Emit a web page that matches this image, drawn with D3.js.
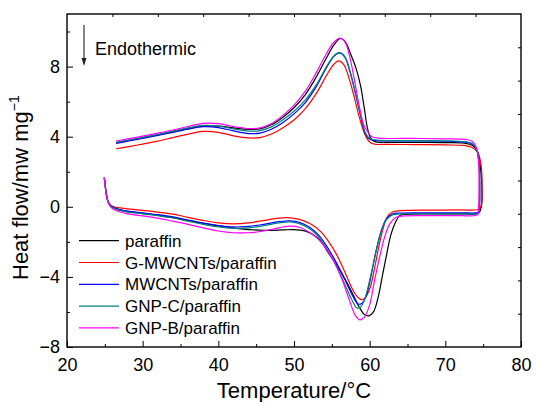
<!DOCTYPE html>
<html>
<head>
<meta charset="utf-8">
<script src="https://cdn.jsdelivr.net/npm/d3@7"></script>
<style>
  body { margin: 0; background: #fff; }
  text { font-family: Arial, "Liberation Sans", sans-serif; fill: #000; }
</style>
</head>
<body>
<div class="box"></div>
<script>
// Temperature (°C) / heat flow (mW mg-1), path goes along upper branch to the right, then back along lower branch
const paraffin = [[26.5,3.65],[28,3.78],[30,3.94],[32,4.1],[34,4.28],[36,4.46],[38,4.62],[40,4.6],[42,4.5],[44,4.42],[45.5,4.45],[47,4.68],[48.5,5.1],[50,5.65],[51.5,6.4],[53,7.45],[54.3,8.5],[55.3,9.25],[56.1,9.6],[56.8,9.4],[57.5,8.7],[58.2,7.9],[58.8,6.9],[59.3,5.6],[59.7,4.5],[60.1,3.95],[60.7,3.72],[62,3.68],[66,3.68],[70,3.66],[72.5,3.63],[73.6,3.5],[74.3,3.1],[74.65,2.2],[74.85,1.0],[74.75,0.0],[74.4,-0.35],
  [72,-0.4],[68,-0.41],[65,-0.43],[64,-0.5],[63.4,-0.9],[62.8,-1.6],[62.3,-2.6],[61.7,-3.9],[61.1,-5.2],[60.5,-6.0],[59.9,-6.22],[59.3,-6.15],[58.6,-5.7],[57.8,-5.0],[56.7,-4.1],[55.6,-3.3],[54.5,-2.6],[53.5,-1.95],[52.4,-1.55],[51.3,-1.36],[50,-1.3],[48.5,-1.32],[46,-1.34],[43,-1.26],[41,-1.15],[39,-1.02],[37,-0.86],[35,-0.7],[33,-0.55],[31,-0.42],[29,-0.32],[27.5,-0.22],[26.5,-0.1],[25.9,0.02],[25.5,0.22],[25.25,0.62],[25.05,1.2],[24.93,1.66]];

const gMwcnts = [[26.5,3.31],[28,3.42],[30,3.58],[32,3.75],[34,3.95],[36,4.15],[38,4.3],[40,4.25],[42,4.05],[44,3.93],[45.5,3.95],[47,4.15],[48.5,4.5],[50,4.95],[51.5,5.6],[53,6.5],[54.3,7.5],[55.3,8.15],[55.9,8.32],[56.6,8.1],[57.3,7.3],[58,6.2],[58.7,5.0],[59.4,4.1],[60,3.7],[60.7,3.57],[62,3.56],[66,3.55],[70,3.53],[72.5,3.5],[73.5,3.4],[74.3,3.1],[74.75,2.3],[74.85,1.2],[74.8,0.2],[74.55,-0.1],[74.2,-0.17],
  [72,-0.18],[68,-0.19],[64,-0.22],[63,-0.3],[62.3,-0.6],[61.8,-1.2],[61.2,-2.3],[60.6,-3.6],[60,-4.7],[59.4,-5.2],[58.9,-5.3],[58.3,-5.1],[57.5,-4.5],[56.6,-3.6],[55.6,-2.7],[54.6,-2.0],[53.6,-1.45],[52.5,-1.05],[51.3,-0.8],[50,-0.66],[49,-0.62],[48,-0.65],[46,-0.78],[44,-0.92],[42,-0.98],[40,-0.92],[38,-0.78],[36,-0.6],[34,-0.42],[32,-0.3],[30,-0.2],[28,-0.12],[27,-0.06],[26.2,0.0],[25.7,0.12],[25.4,0.35],[25.2,0.7],[25.05,1.2],[24.93,1.66]];

const mwcnts = [[26.5,3.62],[28,3.74],[30,3.9],[32,4.07],[34,4.25],[36,4.43],[38,4.57],[40,4.52],[42,4.33],[44,4.18],[45.5,4.2],[47,4.42],[48.5,4.8],[50,5.3],[51.5,5.95],[53,6.9],[54.3,7.95],[55.3,8.6],[56,8.78],[56.7,8.55],[57.4,7.7],[58.1,6.5],[58.8,5.2],[59.4,4.2],[60,3.85],[61,3.78],[66,3.76],[70,3.74],[72.5,3.7],[73.5,3.6],[74.1,3.3],[74.45,2.5],[74.55,1.2],[74.5,0.0],[74.35,-0.3],
  [72,-0.34],[68,-0.35],[64,-0.36],[63,-0.42],[62.2,-0.7],[61.5,-1.4],[60.8,-2.6],[60.2,-3.9],[59.6,-5.0],[59,-5.5],[58.5,-5.55],[57.9,-5.2],[57.1,-4.5],[56.1,-3.6],[55.1,-2.8],[54.1,-2.1],[53.1,-1.55],[52,-1.15],[50.8,-0.9],[49.5,-0.8],[48,-0.85],[46,-1.0],[44,-1.12],[42,-1.15],[40,-1.07],[38,-0.93],[36,-0.76],[34,-0.58],[32,-0.45],[30,-0.35],[28,-0.25],[27,-0.18],[26.2,-0.05],[25.7,0.1],[25.4,0.33],[25.2,0.7],[25.05,1.2],[24.93,1.66]];

const gnpC = [[26.5,3.68],[28,3.8],[30,3.96],[32,4.13],[34,4.32],[36,4.5],[38,4.65],[40,4.6],[42,4.45],[44,4.32],[45.5,4.35],[47,4.56],[48.5,4.95],[50,5.45],[51.5,6.1],[53,7.0],[54.3,8.0],[55.3,8.62],[56,8.8],[56.7,8.58],[57.4,7.75],[58.1,6.55],[58.8,5.25],[59.4,4.25],[60,3.9],[61,3.8],[66,3.78],[70,3.76],[72.5,3.72],[73.5,3.62],[74.1,3.32],[74.45,2.5],[74.55,1.2],[74.5,0.0],[74.35,-0.35],
  [72,-0.4],[68,-0.4],[64,-0.41],[63,-0.47],[62.2,-0.75],[61.5,-1.45],[60.8,-2.65],[60.1,-4.0],[59.4,-5.2],[58.8,-5.72],[58.3,-5.77],[57.7,-5.35],[56.9,-4.6],[55.9,-3.65],[54.9,-2.8],[53.9,-2.1],[52.9,-1.55],[51.8,-1.18],[50.6,-0.95],[49.5,-0.86],[48,-0.92],[46,-1.08],[44,-1.2],[42,-1.23],[40,-1.15],[38,-1.0],[36,-0.82],[34,-0.64],[32,-0.5],[30,-0.4],[28,-0.3],[27,-0.22],[26.2,-0.08],[25.7,0.08],[25.4,0.32],[25.2,0.7],[25.05,1.2],[24.93,1.66]];

const gnpB = [[26.5,3.75],[28,3.87],[30,4.03],[32,4.2],[34,4.38],[36,4.58],[38,4.76],[40,4.74],[42,4.58],[44,4.46],[45.5,4.5],[47,4.75],[48.5,5.2],[50,5.8],[51.5,6.6],[53,7.7],[54.3,8.75],[55.3,9.4],[56.1,9.62],[56.8,9.35],[57.4,8.5],[58,7.2],[58.6,5.8],[59.2,4.7],[59.7,4.3],[60.3,4.0],[61.2,3.92],[66,3.9],[70,3.88],[72.5,3.85],[73.5,3.75],[74.1,3.4],[74.4,2.5],[74.45,1.2],[74.4,0.0],[74.3,-0.45],
  [72,-0.5],[68,-0.5],[64.5,-0.52],[63.5,-0.6],[62.7,-0.95],[62,-1.7],[61.3,-2.9],[60.6,-4.3],[60,-5.6],[59.3,-6.3],[58.7,-6.45],[58.1,-6.2],[57.3,-5.3],[56.3,-4.1],[55.2,-3.05],[54.1,-2.3],[53.1,-1.8],[52,-1.45],[50.8,-1.18],[49.5,-1.1],[48,-1.2],[46,-1.38],[44,-1.48],[42,-1.48],[40,-1.38],[38,-1.2],[36,-1.0],[34,-0.82],[32,-0.65],[30,-0.52],[28,-0.4],[27,-0.3],[26.2,-0.15],[25.7,0.03],[25.4,0.3],[25.2,0.7],[25.05,1.2],[24.93,1.66]];

const seriesNames = ['paraffin', 'G-MWCNTs/paraffin', 'MWCNTs/paraffin', 'GNP-C/paraffin', 'GNP-B/paraffin'];
const seriesColors = ['#000000', '#ff0000', '#0000ff', '#008080', '#ff00ff'];
const seriesData = [paraffin, gMwcnts, mwcnts, gnpC, gnpB];

const xTicks = [20, 30, 40, 50, 60, 70, 80];
const xMinor = [25, 35, 45, 55, 65, 75];
const yTicks = [-8, -4, 0, 4, 8];
const yMinor = [-6, -2, 2, 6, 10];

const W = 536, H = 402;
const svg = d3.select('.box')
              .append('svg')
              .attr('width', W)
              .attr('height', H);

const m = {left: 67, right: 521, top: 14, bottom: 347};

const x = d3.scaleLinear().domain([20, 80]).range([m.left, m.right]);
const y = d3.scaleLinear().domain([-8, 11]).range([m.bottom, m.top]);

// axes, ticks pointing inward
const styleAxis = g => {
  g.select('.domain').remove();
  g.selectAll('line').attr('stroke', '#000').attr('stroke-width', 1);
  g.selectAll('text').style('font-size', '18px').attr('font-family', 'Arial, "Liberation Sans", sans-serif');
};

svg.append('g').attr('transform', `translate(0,${m.bottom})`)
   .call(d3.axisBottom(x).tickValues(xTicks).tickSizeInner(-6).tickSizeOuter(0).tickPadding(11).tickFormat(d3.format('d')))
   .call(styleAxis);
svg.append('g').attr('transform', `translate(0,${m.bottom})`)
   .call(d3.axisBottom(x).tickValues(xMinor).tickSize(-3).tickFormat(''))
   .call(styleAxis);

svg.append('g').attr('transform', `translate(${m.left},0)`)
   .call(d3.axisLeft(y).tickValues(yTicks).tickSizeInner(-6).tickSizeOuter(0).tickPadding(7))
   .call(styleAxis);
svg.append('g').attr('transform', `translate(${m.left},0)`)
   .call(d3.axisLeft(y).tickValues(yMinor).tickSize(-3).tickFormat(''))
   .call(styleAxis);

// top and right axes carry ten plain divisions
svg.append('g').attr('transform', `translate(0,${m.top})`)
   .call(d3.axisTop(x).tickValues(d3.range(1, 10).map(i => 20 + i * 6)).tickSize(-3).tickFormat(''))
   .call(styleAxis);
svg.append('g').attr('transform', `translate(${m.right},0)`)
   .call(d3.axisRight(y).tickValues(d3.range(1, 10).map(i => -8 + i * 1.9)).tickSize(-3).tickFormat(''))
   .call(styleAxis);

svg.append('rect')
   .attr('x', m.left).attr('y', m.top)
   .attr('width', m.right - m.left).attr('height', m.bottom - m.top)
   .attr('fill', 'none').attr('stroke', '#000').attr('stroke-width', 1.4);

// curves
const line = d3.line()
               .x(d => x(d[0]))
               .y(d => y(d[1]))
               .curve(d3.curveCatmullRom.alpha(0.5));

const order = [0, 1, 2, 3, 4];
svg.append('g').selectAll('path')
   .data(order)
   .enter()
   .append('path')
   .attr('d', i => line(seriesData[i]))
   .attr('fill', 'none')
   .attr('stroke', i => seriesColors[i])
   .attr('stroke-width', 1.2);

// legend
const legend = svg.append('g');
seriesNames.forEach((name, i) => {
  const ly = 240.7 + i * 21.8;
  legend.append('line')
        .attr('x1', 79).attr('x2', 119).attr('y1', ly).attr('y2', ly)
        .attr('stroke', seriesColors[i]).attr('stroke-width', 1.2);
  legend.append('text')
        .attr('x', 125).attr('y', ly + 6)
        .style('font-size', '17px')
        .text(name);
});

// endothermic arrow
svg.append('line')
   .attr('x1', 84).attr('x2', 84).attr('y1', 25).attr('y2', 60)
   .attr('stroke', '#333').attr('stroke-width', 1.2);
svg.append('path')
   .attr('d', 'M81.5,58 L86.5,58 L84,66 Z')
   .attr('fill', '#222');
svg.append('text')
   .attr('x', 95).attr('y', 55)
   .style('font-size', '18px')
   .text('Endothermic');

// axis titles
svg.append('text')
   .attr('x', 294).attr('y', 398)
   .attr('text-anchor', 'middle')
   .style('font-size', '22px')
   .text('Temperature/°C');

const yTitle = svg.append('text')
   .attr('transform', 'translate(28,280) rotate(-90)')
   .attr('text-anchor', 'start')
   .style('font-size', '22px')
   .text('Heat flow/mw mg');
yTitle.append('tspan')
   .attr('dy', -9)
   .style('font-size', '14px')
   .text('−1');
</script>
</body>
</html>
